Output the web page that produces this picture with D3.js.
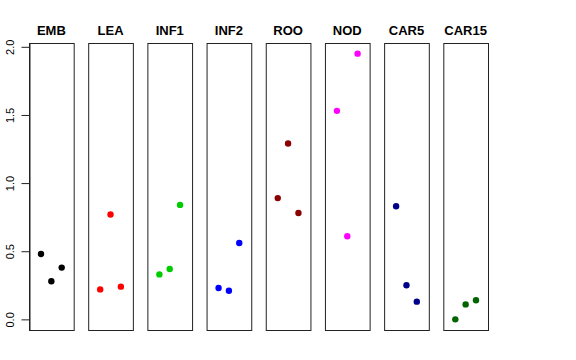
<!DOCTYPE html>
<html>
<head>
<meta charset="utf-8">
<script src="https://cdn.jsdelivr.net/npm/d3@7"></script>
<style>
  body { margin: 0; background: #fff; }
  text { font-family: "Liberation Sans", Arial, sans-serif; }
</style>
</head>
<body>
<div id="chart"></div>
<script>
// tissues (one panel each) and their point colours
const tissues = ['EMB', 'LEA', 'INF1', 'INF2', 'ROO', 'NOD', 'CAR5', 'CAR15']
const colors = ['#000000', '#ff0000', '#00cd00', '#0000ff', '#8b0000', '#ff00ff', '#00008b', '#006400']

// three replicates per tissue
const rep1 = [0.48, 0.22, 0.33, 0.23, 0.89, 1.53, 0.83, 0.00]
const rep2 = [0.28, 0.77, 0.37, 0.21, 1.29, 0.61, 0.25, 0.11]
const rep3 = [0.38, 0.24, 0.84, 0.56, 0.78, 1.95, 0.13, 0.14]

const yTicks = [0, 0.5, 1, 1.5, 2]

const width = 576, height = 360
const margin = { top: 43, right: 88, bottom: 30, left: 29 }

const points = []
tissues.forEach((t, i) => {
  [rep1, rep2, rep3].forEach((r, j) => points.push({ tissue: t, rep: j + 1, value: r[i], color: colors[i] }))
})

const svg = d3.select('#chart').append('svg')
  .attr('width', width)
  .attr('height', height)

// panels
const panel = d3.scaleBand()
  .domain(tissues)
  .range([margin.left, width - margin.right])
  .paddingInner(0.245)
  .paddingOuter(0)

// R style 4% padding on y
const yMax = d3.max(points, d => d.value), yMin = d3.min(points, d => d.value)
const pad = (yMax - yMin) * 0.04
const y = d3.scaleLinear()
  .domain([yMin - pad, yMax + pad])
  .range([height - margin.bottom, margin.top])

const x = d3.scaleLinear()
  .domain([1 - 1.16, 3 + 1.16])
  .range([0, panel.bandwidth()])

const g = svg.selectAll('g.panel')
  .data(tissues)
  .enter().append('g')
  .attr('class', 'panel')
  .attr('transform', d => 'translate(' + panel(d) + ',0)')

g.append('rect')
  .attr('x', 0.5)
  .attr('y', margin.top + 0.5)
  .attr('width', panel.bandwidth())
  .attr('height', height - margin.bottom - margin.top)
  .attr('fill', 'none')
  .attr('stroke', '#222')
  .attr('stroke-width', 1)

g.append('text')
  .attr('x', panel.bandwidth() / 2)
  .attr('y', 35)
  .attr('text-anchor', 'middle')
  .style('font-size', '13px')
  .style('font-weight', 'bold')
  .text(d => d)

g.selectAll('circle')
  .data(t => points.filter(p => p.tissue === t))
  .enter().append('circle')
  .attr('cx', d => x(d.rep))
  .attr('cy', d => y(d.value))
  .attr('r', 3.2)
  .attr('fill', d => d.color)

// y axis on the first panel
const axis = svg.append('g')
  .attr('transform', 'translate(' + (margin.left + 0.5) + ',0)')
  .call(d3.axisLeft(y).tickValues(yTicks).tickFormat(d3.format('.1f')).tickSize(8).tickSizeOuter(0))

axis.select('.domain').attr('stroke', '#222')
axis.selectAll('.tick line').attr('stroke', '#222')
axis.selectAll('.tick text')
  .attr('x', 0)
  .attr('y', 0)
  .attr('dy', 0)
  .attr('transform', 'translate(-16,0) rotate(-90)')
  .attr('text-anchor', 'middle')
  .style('font-size', '11px')
  .style('font-family', '"Liberation Sans", Arial, sans-serif')
  .attr('fill', '#000')
</script>
</body>
</html>
